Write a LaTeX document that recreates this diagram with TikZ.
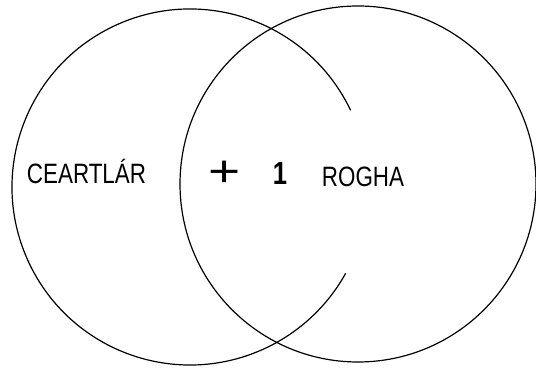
\documentclass[tikz,border=0pt]{standalone}
\usepackage{fontspec}
\newfontfamily\plotfont[FakeStretch=0.8]{Liberation Sans}
\newfontfamily\plusfont[FakeStretch=1.25]{Liberation Sans}
\begin{document}
\begin{tikzpicture}[x=1pt,y=1pt,line width=1.2pt,
  lbl/.style={font=\plotfont\fontsize{28}{28}\selectfont,inner sep=0pt,anchor=base}]
\useasboundingbox (0,0) rectangle (536,371);
\coordinate (lc) at (190,184);
\coordinate (rc) at (358,187);
\draw (rc) circle[radius=178];
\draw ([shift={(25.5:178)}]lc) arc[start angle=25.5,end angle=331,radius=178];
\node[lbl] (ceart) at (86.5,187) {CEARTLÁR};
\node[inner sep=0pt,font=\plusfont\fontsize{44}{44}\selectfont] (plus) at (224.5,197.5) {+};
\node[lbl,font=\plotfont\bfseries\fontsize{32}{32}\selectfont] (one) at (280,186) {1};
\node[lbl] (rogha) at (363,184) {ROGHA};
\end{tikzpicture}
\end{document}
